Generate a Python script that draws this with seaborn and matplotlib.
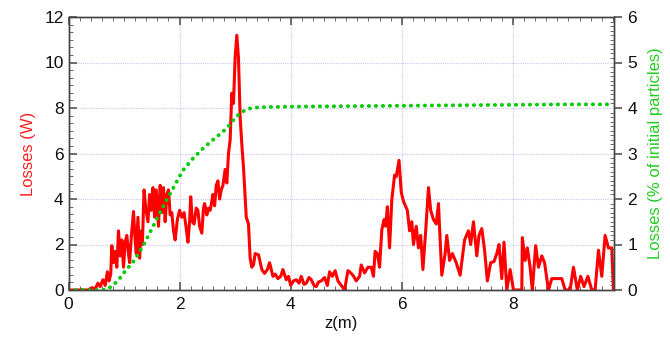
import numpy as np
import pandas as pd
import matplotlib
matplotlib.use("Agg")
import matplotlib.pyplot as plt
from matplotlib.ticker import MultipleLocator, AutoMinorLocator
import seaborn as sns

# Red curve: losses in W along z
z_w = [0.0, 0.2, 0.35, 0.42, 0.48, 0.53, 0.57, 0.62, 0.66, 0.7, 0.73, 0.76, 0.78,
       0.81, 0.84, 0.87, 0.9, 0.93, 0.96, 0.99, 1.02, 1.05, 1.08, 1.1, 1.13, 1.17,
       1.2, 1.22, 1.25, 1.28, 1.31, 1.33, 1.36, 1.39, 1.43, 1.46, 1.49, 1.52, 1.55,
       1.58, 1.62, 1.65, 1.68, 1.71, 1.74, 1.77, 1.8, 1.83, 1.86, 1.89, 1.92, 1.96,
       2.0, 2.04, 2.08, 2.12, 2.15, 2.18, 2.2, 2.23, 2.26, 2.3, 2.33, 2.36, 2.4,
       2.43, 2.45, 2.49, 2.52, 2.55, 2.58, 2.6, 2.63, 2.66, 2.69, 2.72, 2.75, 2.78,
       2.82, 2.85, 2.88, 2.91, 2.94, 2.97, 3.0, 3.03, 3.06, 3.09, 3.12, 3.15, 3.2,
       3.24, 3.27, 3.3, 3.33, 3.36, 3.42, 3.48, 3.53, 3.58, 3.62, 3.68, 3.72, 3.77,
       3.82, 3.86, 3.92, 3.96, 4.0, 4.05, 4.1, 4.15, 4.19, 4.24, 4.28, 4.33, 4.37,
       4.42, 4.46, 4.5, 4.55, 4.61, 4.66, 4.7, 4.75, 4.8, 4.85, 4.91, 4.97, 5.03,
       5.06, 5.12, 5.18, 5.24, 5.27, 5.33, 5.39, 5.45, 5.49, 5.52, 5.56, 5.6, 5.64,
       5.68, 5.71, 5.74, 5.78, 5.82, 5.87, 5.9, 5.95, 5.99, 6.03, 6.1, 6.14, 6.18,
       6.21, 6.26, 6.3, 6.34, 6.38, 6.43, 6.48, 6.52, 6.57, 6.62, 6.66, 6.72, 6.78,
       6.81, 6.86, 6.91, 6.98, 7.05, 7.13, 7.2, 7.24, 7.29, 7.35, 7.39, 7.44, 7.49,
       7.54, 7.6, 7.66, 7.71, 7.75, 7.8, 7.84, 7.89, 7.95, 8.01, 8.16, 8.17, 8.22,
       8.26, 8.31, 8.35, 8.41, 8.46, 8.52, 8.57, 8.64, 8.7, 8.88, 8.94, 9.03, 9.09,
       9.16, 9.22, 9.28, 9.35, 9.42, 9.48, 9.54, 9.6, 9.66, 9.72, 9.78, 9.81]
loss_w = [0.0, 0.0, 0.0, 0.1, 0.05, 0.3, 0.15, 0.45, 0.2, 0.8, 0.4, 0.7, 1.95,
          1.2, 1.7, 1.0, 2.6, 1.5, 2.2, 1.0, 2.1, 2.4, 1.6, 1.2, 2.3, 3.45,
          2.2, 1.6, 3.2, 1.4, 2.6, 2.0, 4.4, 3.6, 3.0, 4.2, 3.5, 4.5, 3.2,
          4.4, 2.8, 4.6, 3.4, 4.5, 3.0, 4.2, 4.4, 3.3, 3.4, 2.6, 2.2, 3.1,
          3.5, 3.2, 3.4, 2.7, 2.1, 3.0, 4.1, 3.0, 2.9, 3.6, 3.5, 2.8, 2.5,
          3.6, 3.8, 3.3, 3.6, 3.5, 3.9, 4.2, 3.7, 4.6, 4.8, 4.0, 4.4, 4.6,
          5.3, 4.7, 6.0, 6.6, 8.65, 8.2, 10.25, 11.2, 10.2, 7.6, 6.4, 5.4, 3.2,
          2.9, 1.4, 1.0, 1.1, 1.6, 1.55, 0.9, 0.73, 0.9, 1.2, 0.6, 0.7, 0.5,
          0.6, 0.9, 0.45, 0.6, 0.2, 0.4, 0.45, 0.3, 0.6, 0.25, 0.3, 0.55, 0.45,
          0.2, 0.15, 0.35, 0.4, 0.55, 0.2, 0.8, 0.6, 0.85, 0.4, 0.2, 0.0, 0.85,
          0.8, 0.65, 0.4, 0.6, 1.1, 0.75, 1.0, 1.0, 0.6, 1.7, 1.6, 1.0, 2.64,
          3.1, 2.8, 3.66, 1.85, 3.96, 5.05, 4.98, 5.7, 4.3, 3.9, 3.5, 2.6, 3.0,
          2.0, 2.8, 1.85, 2.4, 0.9, 2.6, 4.5, 3.5, 3.1, 2.9, 3.8, 0.65, 1.6,
          2.4, 1.3, 1.6, 1.2, 0.65, 2.2, 2.6, 2.0, 3.0, 1.5, 2.4, 2.7, 1.75,
          0.4, 1.2, 1.25, 1.6, 2.0, 0.5, 2.1, 0.0, 0.9, 0.0, 0.0, 2.3, 1.3,
          1.85, 1.0, 0.0, 1.95, 1.0, 1.5, 1.2, 0.0, 0.5, 0.5, 0.0, 0.0, 1.0,
          0.0, 0.6, 0.15, 0.6, 0.0, 0.0, 1.75, 0.6, 2.4, 1.85, 1.85, 0.0]

# Green curve: cumulative losses in % of initial particles
z_pct = [0.0, 0.6, 0.7, 0.8, 0.9, 0.99, 1.08, 1.17, 1.26, 1.35, 1.52, 1.7, 1.88,
         2.06, 2.24, 2.42, 2.6, 2.78, 2.88, 2.97, 3.03, 3.09, 3.15, 3.2, 3.27,
         3.39, 3.57, 4.0, 5.0, 6.0, 7.0, 8.0, 9.0, 9.8]
loss_pct = [0.0, 0.0, 0.02, 0.1, 0.22, 0.37, 0.5, 0.63, 0.8, 0.99, 1.39, 1.83, 2.23,
            2.63, 2.89, 3.11, 3.3, 3.48, 3.6, 3.74, 3.82, 3.88, 3.93, 3.97, 3.99,
            4.01, 4.02, 4.03, 4.04, 4.05, 4.06, 4.07, 4.08, 4.08]

x_ticks = [0, 2, 4, 6, 8]
y_left_ticks = [0, 2, 4, 6, 8, 10, 12]
y_right_ticks = [0, 1, 2, 3, 4, 5, 6]

sns.set_style("white")
plt.rcParams['font.family'] = ['Liberation Sans', 'DejaVu Sans']

df_w = pd.DataFrame({"z": z_w, "loss": loss_w})
df_p = pd.DataFrame({"z": z_pct, "loss": loss_pct})

fig = plt.figure(figsize=(6.7, 3.4), dpi=100)
ax = fig.add_axes([68.5 / 670, 50 / 340, (614 - 68.5) / 670, (290 - 17) / 340])
ax2 = ax.twinx()

sns.lineplot(data=df_w, x="z", y="loss", ax=ax, color="#ff0000", linewidth=2.2,
             estimator=None, sort=False, legend=False)
sns.lineplot(data=df_p, x="z", y="loss", ax=ax2, color="#00cc00", linewidth=2.8,
             estimator=None, sort=False, legend=False, linestyle=(0, (0.05, 1.75)),
             dash_capstyle="round")

ax.set_xlim(0, 9.82)
ax.set_ylim(0, 12)
ax2.set_ylim(0, 6)

ax.set_xticks(x_ticks)
ax.set_yticks(y_left_ticks)
ax2.set_yticks(y_right_ticks)
ax.xaxis.set_minor_locator(MultipleLocator(0.2))
ax.yaxis.set_minor_locator(AutoMinorLocator(6))
ax2.yaxis.set_minor_locator(MultipleLocator(0.1))

ax.grid(True, which="major", color="#c8c8f0", linestyle=(0, (1, 1)), linewidth=0.8)
ax2.grid(False)

ax.tick_params(axis="x", which="both", direction="in", top=True, bottom=True,
               labelsize=12.5, colors="#555555", labelcolor="#111111")
ax.tick_params(axis="x", which="major", length=6, width=1.2, pad=5)
ax.tick_params(axis="x", which="minor", length=3)
ax.tick_params(axis="y", which="both", direction="in", left=True, right=False,
               labelsize=12.5, colors="#555555", labelcolor="#111111")
ax.tick_params(axis="y", which="major", length=6, width=1.2)
ax.tick_params(axis="y", which="minor", length=3)
ax2.tick_params(axis="y", which="major", direction="out", length=6, width=1.2,
                labelsize=12.5, colors="#555555", labelcolor="#111111")
ax2.tick_params(axis="y", which="minor", direction="in", length=3, colors="#555555")

for a in (ax, ax2):
    for s in a.spines.values():
        s.set_color("#444444")
        s.set_linewidth(1.0)

ax.set_xlabel("z(m)", fontsize=12, color="#111111", labelpad=3)
ax.set_ylabel("Losses (W)", fontsize=12, color="#ff2020", labelpad=6)
ax2.set_ylabel("Losses (% of initial particles)", fontsize=12, color="#22cc22", labelpad=8)

fig.savefig("out.png", dpi=100)
